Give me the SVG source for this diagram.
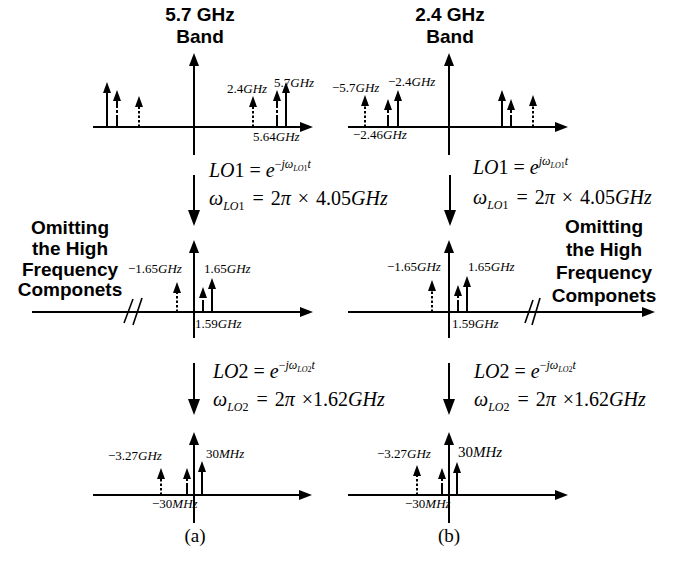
<svg xmlns="http://www.w3.org/2000/svg" width="680" height="561" viewBox="0 0 680 561">
<style>
.ax{stroke:#000;stroke-width:2;fill:none}
.axis{marker-end:url(#ah)}
.down{marker-end:url(#dh)}
.sp{stroke:#000;stroke-width:2;fill:none;marker-end:url(#sh)}
.dd{stroke-dasharray:12 2 3 2}
.dt{stroke-dasharray:2.5 2}
.brk{stroke:#000;stroke-width:1.6}
.t{font-family:"Liberation Sans",Arial,sans-serif;font-weight:bold;font-size:19px;text-anchor:middle;fill:#000}
.l{font-family:"Liberation Serif","Times New Roman",serif;font-size:13px;fill:#000}
.eq{font-family:"Liberation Serif","Times New Roman",serif;font-size:20px;fill:#000;white-space:pre}
.i{font-style:italic}
.s{font-size:12px}
.ss{font-size:8px}
.cap{font-family:"Liberation Serif","Times New Roman",serif;font-size:19px;text-anchor:middle;fill:#000}
</style>
<defs>
<marker id="ah" markerUnits="userSpaceOnUse" markerWidth="13" markerHeight="10" refX="3" refY="5" orient="auto"><path d="M0,0 L13,5 L0,10 z" fill="#000"/></marker>
<marker id="dh" markerUnits="userSpaceOnUse" markerWidth="16" markerHeight="12" refX="3" refY="6" orient="auto"><path d="M0,0 L16,6 L0,12 z" fill="#000"/></marker>
<marker id="sh" markerUnits="userSpaceOnUse" markerWidth="11" markerHeight="8" refX="2" refY="4" orient="auto"><path d="M0,0 L11,4 L0,8 z" fill="#000"/></marker>
</defs>

<g id="titles">
<text class="t" x="200" y="21">5.7 GHz</text>
<text class="t" x="200" y="43">Band</text>
<text class="t" x="450" y="21">2.4 GHz</text>
<text class="t" x="450" y="43">Band</text>
</g>

<g id="connectors">
<line class="ax axis" x1="93" y1="127" x2="303" y2="127"/>
<line class="ax axis" x1="194" y1="155" x2="194" y2="63"/>
<line class="ax axis" x1="348" y1="127" x2="558" y2="127"/>
<line class="ax axis" x1="449" y1="155" x2="449" y2="63"/>
<line class="ax axis" x1="32" y1="312" x2="303" y2="312"/>
<line class="ax axis" x1="194" y1="338" x2="194" y2="250"/>
<line class="ax axis" x1="348" y1="312" x2="645" y2="312"/>
<line class="ax axis" x1="449" y1="338" x2="449" y2="250"/>
<line class="ax axis" x1="93" y1="495" x2="302" y2="495"/>
<line class="ax axis" x1="194" y1="523" x2="194" y2="442"/>
<line class="ax axis" x1="348" y1="495" x2="558" y2="495"/>
<line class="ax axis" x1="449" y1="523" x2="449" y2="442"/>
<line class="ax down" x1="194" y1="175" x2="194" y2="213"/>
<line class="ax down" x1="450" y1="175" x2="450" y2="213"/>
<line class="ax down" x1="194" y1="363" x2="194" y2="402"/>
<line class="ax down" x1="449" y1="363" x2="449" y2="402"/>
<line class="brk" x1="124" y1="323" x2="133" y2="299"/>
<line class="brk" x1="133" y1="325" x2="142" y2="298"/>
<line class="brk" x1="525" y1="323" x2="533" y2="300"/>
<line class="brk" x1="532" y1="325" x2="540" y2="298"/>
</g>

<g id="spikes-a-top">
<line class="sp" x1="107" y1="127" x2="107" y2="91"/>
<line class="sp dd" x1="117" y1="127" x2="117" y2="99"/>
<line class="sp dt" x1="139" y1="127" x2="139" y2="105"/>
<line class="sp dt" x1="253" y1="127" x2="253" y2="105"/>
<line class="sp dd" x1="277" y1="127" x2="277" y2="99"/>
<line class="sp" x1="286" y1="127" x2="286" y2="91"/>
</g>
<g id="spikes-b-top">
<line class="sp dt" x1="365" y1="127" x2="365" y2="104"/>
<line class="sp dd" x1="388" y1="127" x2="388" y2="108"/>
<line class="sp" x1="398" y1="127" x2="398" y2="99"/>
<line class="sp" x1="502" y1="127" x2="502" y2="99"/>
<line class="sp dd" x1="511" y1="127" x2="511" y2="108"/>
<line class="sp dt" x1="533" y1="127" x2="533" y2="104"/>
</g>
<g id="spikes-a-mid">
<line class="sp dt" x1="177" y1="312" x2="177" y2="291"/>
<line class="sp dd" x1="203" y1="312" x2="203" y2="296"/>
<line class="sp" x1="212" y1="312" x2="212" y2="287"/>
</g>
<g id="spikes-b-mid">
<line class="sp dt" x1="432" y1="312" x2="432" y2="289"/>
<line class="sp dd" x1="458" y1="312" x2="458" y2="294"/>
<line class="sp" x1="467" y1="312" x2="467" y2="285"/>
</g>
<g id="spikes-a-bot">
<line class="sp dt" x1="161" y1="495" x2="161" y2="477"/>
<line class="sp dd" x1="187" y1="495" x2="187" y2="477"/>
<line class="sp" x1="202" y1="495" x2="202" y2="470"/>
</g>
<g id="spikes-b-bot">
<line class="sp dt" x1="417" y1="495" x2="417" y2="474"/>
<line class="sp dd" x1="442" y1="495" x2="442" y2="477"/>
<line class="sp" x1="457" y1="495" x2="457" y2="471"/>
</g>

<g id="labels">
<text class="l" x="227" y="93">2.4<tspan class="i">GHz</tspan></text>
<text class="l" x="274" y="87">5.7<tspan class="i">GHz</tspan></text>
<text class="l" x="253" y="141">5.64<tspan class="i">GHz</tspan></text>
<text class="l" x="332" y="92">−5.7<tspan class="i">GHz</tspan></text>
<text class="l" x="388" y="86">−2.4<tspan class="i">GHz</tspan></text>
<text class="l" x="353" y="139">−2.46<tspan class="i">GHz</tspan></text>
<text class="l" x="128" y="273">−1.65<tspan class="i">GHz</tspan></text>
<text class="l" x="204" y="273">1.65<tspan class="i">GHz</tspan></text>
<text class="l" x="195" y="328">1.59<tspan class="i">GHz</tspan></text>
<text class="l" x="387" y="271">−1.65<tspan class="i">GHz</tspan></text>
<text class="l" x="468" y="271">1.65<tspan class="i">GHz</tspan></text>
<text class="l" x="452" y="328">1.59<tspan class="i">GHz</tspan></text>
<text class="l" x="108" y="460">−3.27<tspan class="i">GHz</tspan></text>
<text class="l" x="206" y="458">30<tspan class="i">MHz</tspan></text>
<text class="l" x="152" y="508">−30<tspan class="i">MHz</tspan></text>
<text class="l" x="377" y="458">−3.27<tspan class="i">GHz</tspan></text>
<text class="l" x="458" y="457" style="font-size:15px">30<tspan class="i">MHz</tspan></text>
<text class="l" x="405" y="508">−30<tspan class="i">MHz</tspan></text>
</g>

<g id="omit-left">
<text class="t" x="70" y="234">Omitting</text>
<text class="t" x="70" y="255">the High</text>
<text class="t" x="70" y="276">Frequency</text>
<text class="t" x="70" y="296">Componets</text>
</g>
<g id="omit-right">
<text class="t" x="604" y="233">Omitting</text>
<text class="t" x="604" y="256">the High</text>
<text class="t" x="604" y="279">Frequency</text>
<text class="t" x="604" y="302">Componets</text>
</g>

<g id="eq-a1">
<text class="eq" x="209" y="177"><tspan class="i">LO</tspan>1 = <tspan class="i">e</tspan><tspan class="s" dy="-9">−</tspan><tspan class="s i">jω</tspan><tspan class="ss i" dy="3">LO</tspan><tspan class="ss">1</tspan><tspan class="s i" dy="-3">t</tspan></text>
<text class="eq" x="209" y="205"><tspan class="i">ω</tspan><tspan class="s i" dy="5">LO</tspan><tspan class="s">1</tspan><tspan dy="-5" dx="3"> = </tspan><tspan dx="2">2</tspan><tspan class="i">π</tspan><tspan dx="2"> × </tspan><tspan dx="2">4.05</tspan><tspan class="i">GHz</tspan></text>
</g>
<g id="eq-b1">
<text class="eq" x="473" y="174"><tspan class="i">LO</tspan>1 = <tspan class="i">e</tspan><tspan class="s i" dy="-9">jω</tspan><tspan class="ss i" dy="3">LO</tspan><tspan class="ss">1</tspan><tspan class="s i" dy="-3">t</tspan></text>
<text class="eq" x="473" y="204"><tspan class="i">ω</tspan><tspan class="s i" dy="5">LO</tspan><tspan class="s">1</tspan><tspan dy="-5" dx="3"> = </tspan><tspan dx="2">2</tspan><tspan class="i">π</tspan><tspan dx="2"> × </tspan><tspan dx="2">4.05</tspan><tspan class="i">GHz</tspan></text>
</g>
<g id="eq-a2">
<text class="eq" x="213" y="378"><tspan class="i">LO</tspan>2 = <tspan class="i">e</tspan><tspan class="s" dy="-9">−</tspan><tspan class="s i">jω</tspan><tspan class="ss i" dy="3">LO</tspan><tspan class="ss">2</tspan><tspan class="s i" dy="-3">t</tspan></text>
<text class="eq" x="213" y="406"><tspan class="i">ω</tspan><tspan class="s i" dy="5">LO</tspan><tspan class="s">2</tspan><tspan dy="-5" dx="3"> = </tspan><tspan dx="2">2</tspan><tspan class="i">π</tspan><tspan dx="2"> ×</tspan>1.62<tspan class="i">GHz</tspan></text>
</g>
<g id="eq-b2">
<text class="eq" x="474" y="378"><tspan class="i">LO</tspan>2 = <tspan class="i">e</tspan><tspan class="s" dy="-9">−</tspan><tspan class="s i">jω</tspan><tspan class="ss i" dy="3">LO</tspan><tspan class="ss">2</tspan><tspan class="s i" dy="-3">t</tspan></text>
<text class="eq" x="474" y="406"><tspan class="i">ω</tspan><tspan class="s i" dy="5">LO</tspan><tspan class="s">2</tspan><tspan dy="-5" dx="3"> = </tspan><tspan dx="2">2</tspan><tspan class="i">π</tspan><tspan dx="2"> ×</tspan>1.62<tspan class="i">GHz</tspan></text>
</g>

<g id="captions">
<text class="cap" x="195" y="542">(a)</text>
<text class="cap" x="449" y="542">(b)</text>
</g>
</svg>
